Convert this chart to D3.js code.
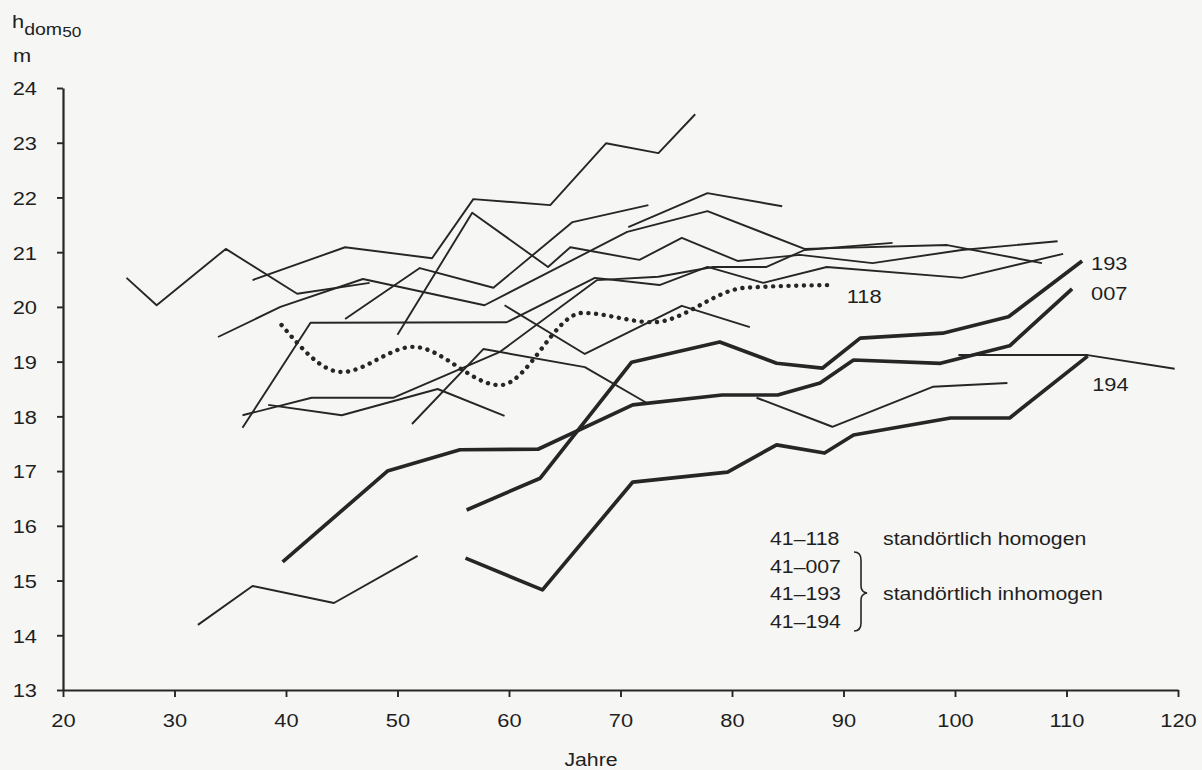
<!DOCTYPE html>
<html>
<head>
<meta charset="utf-8">
<script src="https://cdn.jsdelivr.net/npm/d3@7"></script>
<style>
  body { margin: 0; background: #f6f6f4; }
  svg { display: block; }
  text { font-family: "Liberation Sans", Arial, sans-serif; fill: #1f1f1f; }
</style>
</head>
<body>
<svg id="chart" width="1202" height="770"></svg>
<script>
// [Alter (Jahre), h_dom50 (m)]
const thin01 = [[25.7, 20.53], [28.4, 20.03], [34.6, 21.06], [41.0, 20.24], [47.5, 20.44]];
const thin02 = [[37.0, 20.49], [45.3, 21.09], [53.1, 20.89], [56.8, 21.97], [63.7, 21.86], [68.7, 22.99], [73.4, 22.81], [76.7, 23.52]];
const thin03 = [[33.9, 19.45], [39.5, 20.0], [46.9, 20.51], [57.8, 20.03], [70.6, 21.37], [77.8, 21.75], [86.5, 21.06], [99.3, 21.13], [107.8, 20.8]];
const thin04 = [[45.3, 19.78], [52.0, 20.71], [58.6, 20.35], [65.7, 21.55], [72.5, 21.86]];
const thin05 = [[36.1, 17.79], [42.2, 19.71], [59.8, 19.72], [67.7, 20.53], [73.5, 20.4], [77.8, 20.73], [82.8, 20.44], [88.5, 20.73], [100.6, 20.53], [109.7, 20.97]];
const thin06 = [[36.1, 18.02], [42.3, 18.34], [49.6, 18.34], [59.2, 19.18], [67.9, 20.49], [73.4, 20.55], [78.3, 20.73], [83.1, 20.73], [86.5, 21.04], [94.4, 21.17]];
const thin07 = [[38.4, 18.21], [45.0, 18.02], [53.6, 18.5], [59.6, 18.01]];
const thin08 = [[51.3, 17.86], [57.7, 19.23], [66.8, 18.9], [72.4, 18.24]];
const thin09 = [[50.0, 19.49], [56.7, 21.72], [63.5, 20.73], [65.5, 21.09], [71.7, 20.86], [75.5, 21.26], [80.5, 20.84], [86.1, 20.95], [92.6, 20.8], [100.6, 21.04], [109.2, 21.2]];
const thin10 = [[70.7, 21.46], [77.8, 22.08], [84.5, 21.84]];
const thin11 = [[59.6, 20.03], [66.8, 19.14], [75.5, 20.02], [81.6, 19.63]];
const thin12 = [[82.2, 18.34], [89.0, 17.81], [98.0, 18.54], [104.7, 18.61]];
const thin13 = [[100.3, 19.12], [111.9, 19.12], [119.7, 18.87]];
const thin14 = [[32.1, 14.19], [37.0, 14.9], [44.3, 14.59], [51.8, 15.45]];

const plot118 = [[39.6, 19.67], [45.0, 18.81], [51.4, 19.27], [59.2, 18.57], [66.6, 19.89], [72.9, 19.72], [81.2, 20.35], [89.2, 20.4]];
const plot007 = [[39.7, 15.34], [49.1, 17.0], [55.6, 17.39], [62.6, 17.4], [71.1, 18.21], [79.1, 18.39], [84.1, 18.39], [87.9, 18.61], [90.9, 19.03], [98.7, 18.97], [104.9, 19.29], [110.5, 20.33]];
const plot193 = [[56.2, 16.29], [62.8, 16.87], [71.0, 18.99], [78.9, 19.36], [84.0, 18.97], [88.1, 18.88], [91.5, 19.43], [98.9, 19.52], [104.8, 19.82], [111.4, 20.84]];
const plot194 = [[56.1, 15.41], [63.0, 14.83], [71.1, 16.8], [79.6, 16.98], [84.0, 17.48], [88.3, 17.33], [90.9, 17.66], [99.6, 17.97], [104.9, 17.97], [111.9, 19.1]];

const thinSeries = [thin01, thin02, thin03, thin04, thin05, thin06, thin07, thin08, thin09, thin10, thin11, thin12, thin13, thin14];
const thickSeries = [plot007, plot193, plot194];

const xTicks = [20, 30, 40, 50, 60, 70, 80, 90, 100, 110, 120];
const yTicks = [13, 14, 15, 16, 17, 18, 19, 20, 21, 22, 23, 24];

const endLabels = [
  { name: '193', at: [112.2, 20.67] },
  { name: '007', at: [112.2, 20.13] },
  { name: '194', at: [112.3, 18.46] },
  { name: '118', at: [90.3, 20.07] }
];
const legendCodes = ['41–118', '41–007', '41–193', '41–194'];
const legendGroups = ['standörtlich homogen', 'standörtlich inhomogen'];

const ink = '#262626';
const stretch = 'scale(1.15,1)';

const svg = d3.select('#chart');

const x = d3.scaleLinear().domain([20, 120]).range([63, 1178]);
const y = d3.scaleLinear().domain([13, 24]).range([690, 88]);

const line = d3.line()
  .x(d => x(d[0]))
  .y(d => y(d[1]));

// text that looks like the wide scanned type
const label = (g, px, py, txt, size, anchor) =>
  g.append('text')
    .attr('transform', `translate(${px},${py}) ${stretch}`)
    .attr('font-size', size)
    .attr('text-anchor', anchor || 'start')
    .text(txt);

// axes
const yAxis = svg.append('g')
  .attr('transform', `translate(${x(20)},0)`)
  .call(d3.axisLeft(y).tickValues(yTicks).tickSize(6).tickSizeOuter(0));

const xAxis = svg.append('g')
  .attr('transform', `translate(0,${y(13)})`)
  .call(d3.axisBottom(x).tickValues(xTicks).tickSize(7).tickSizeOuter(0));

[yAxis, xAxis].forEach(ax => {
  ax.select('.domain').attr('stroke', ink).attr('stroke-width', 2.2);
  ax.selectAll('.tick line').attr('stroke', ink).attr('stroke-width', 1.9);
  ax.selectAll('.tick text')
    .attr('fill', '#1f1f1f')
    .attr('font-size', 19)
    .attr('font-family', '"Liberation Sans", Arial, sans-serif');
});
yAxis.selectAll('.tick text')
  .attr('x', -26 / 1.15)
  .attr('dy', '0.36em')
  .attr('transform', stretch);
xAxis.selectAll('.tick text')
  .attr('y', 0)
  .attr('dy', 37)
  .attr('transform', stretch);

// axis titles
const hText = svg.append('text')
  .attr('transform', `translate(12,28) ${stretch}`)
  .attr('font-size', 19);
hText.append('tspan').text('h');
hText.append('tspan').attr('font-size', 17).attr('dy', 7).text('dom');
hText.append('tspan').attr('font-size', 15).attr('dy', 2).text('50');
label(svg, 13, 62, 'm', 19);
label(svg, 591, 766, 'Jahre', 18.5, 'middle');

// thin lines
svg.append('g')
  .selectAll('path')
  .data(thinSeries)
  .enter()
  .append('path')
  .attr('d', line)
  .attr('fill', 'none')
  .attr('stroke', ink)
  .attr('stroke-width', 1.9)
  .attr('stroke-linejoin', 'round');

// thick lines
svg.append('g')
  .selectAll('path')
  .data(thickSeries)
  .enter()
  .append('path')
  .attr('d', line)
  .attr('fill', 'none')
  .attr('stroke', ink)
  .attr('stroke-width', 3.7)
  .attr('stroke-linejoin', 'round');

// dotted 118
svg.append('path')
  .datum(plot118)
  .attr('d', line.curve(d3.curveMonotoneX))
  .attr('fill', 'none')
  .attr('stroke', ink)
  .attr('stroke-width', 4.4)
  .attr('stroke-linecap', 'round')
  .attr('stroke-dasharray', '0.1 7.6');
line.curve(d3.curveLinear);

// end labels
endLabels.forEach(l => label(svg, x(l.at[0]), y(l.at[1]), l.name, 19));

// legend
const leg = svg.append('g');
legendCodes.forEach((c, i) => label(leg, 770, 545 + i * 27.7, c, 18.5));
label(leg, 883, 545, legendGroups[0], 18.5);
label(leg, 883, 600, legendGroups[1], 18.5);
leg.append('path')
  .attr('d', 'M854,552 Q861,552 861,560 L861,586 Q861,592 867,593 Q861,594 861,600 L861,623 Q861,631 854,631')
  .attr('fill', 'none')
  .attr('stroke', ink)
  .attr('stroke-width', 1.6);
</script>
</body>
</html>
